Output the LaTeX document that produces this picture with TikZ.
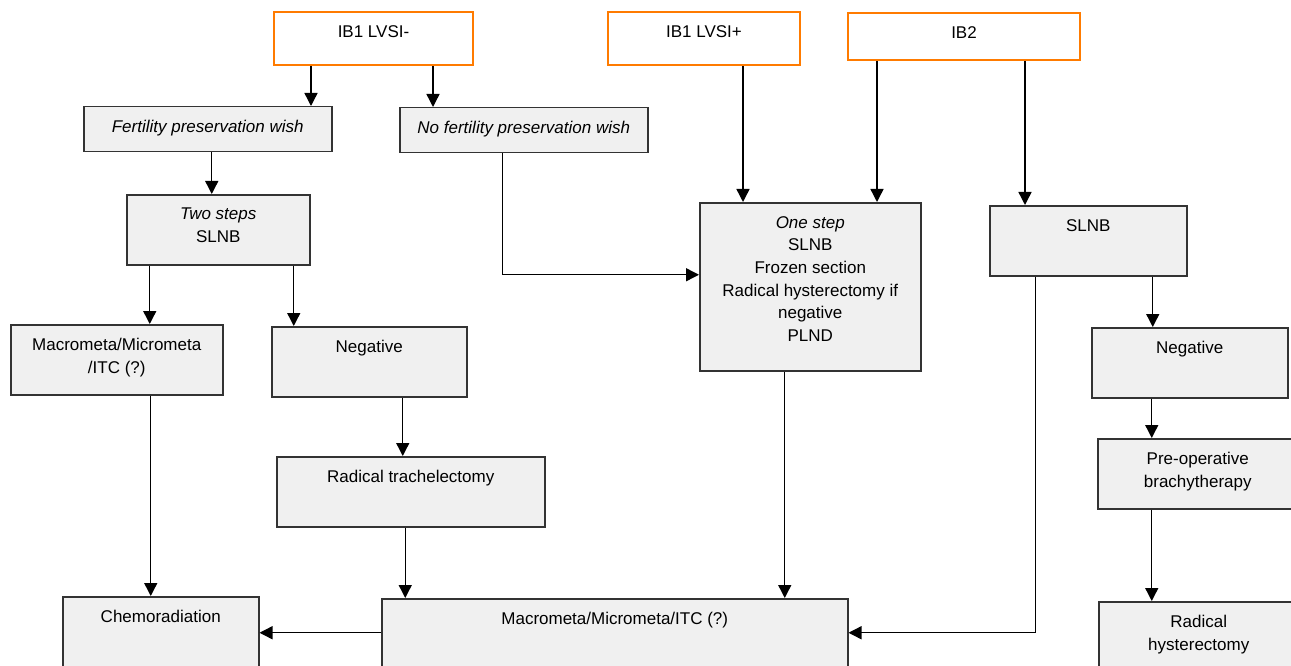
\documentclass[tikz,border=0pt]{standalone}
\usepackage{fontspec}
\setmainfont{Liberation Sans}
\usetikzlibrary{arrows.meta}
\begin{document}
\begin{tikzpicture}[x=1pt,y=-1pt,
  cell/.style={draw=black!80, fill=black!6, line width=1.5pt, anchor=north west, inner sep=0pt},
  stage/.style={draw=orange!85!red!90!yellow, fill=white, line width=2pt, anchor=north west, inner sep=0pt},
  txt/.style={anchor=north, inner sep=0pt, yshift=-14pt, align=center, font=\fontsize{17}{22.7}\selectfont},
  arr/.style={line width=1.4pt, -{Triangle[length=13pt,width=13pt]}}]
\useasboundingbox (0,0) rectangle (1291,666);
\clip (0,0) rectangle (1291,666);
\node[stage, minimum width=199pt, minimum height=53pt] (lvsineg) at (273,11) {};
\node[stage, minimum width=192pt, minimum height=53pt] (lvsipos) at (607,11) {};
\node[stage, minimum width=232pt, minimum height=47pt] (ibtwo) at (847,12) {};
\node[cell, minimum width=248pt, minimum height=45pt] (fert) at (83,106) {};
\node[cell, minimum width=248pt, minimum height=45pt] (nofert) at (399,107) {};
\node[cell, minimum width=183pt, minimum height=70pt] (twostep) at (126,194) {};
\node[cell, minimum width=221pt, minimum height=168pt] (onestep) at (699,202) {};
\node[cell, minimum width=197pt, minimum height=70pt] (slnb) at (989,205) {};
\node[cell, minimum width=212pt, minimum height=70pt] (macleft) at (10,324) {};
\node[cell, minimum width=195pt, minimum height=70pt] (negleft) at (271,326) {};
\node[cell, minimum width=196pt, minimum height=70pt] (negright) at (1091,327) {};
\node[cell, minimum width=268pt, minimum height=70pt] (trach) at (276,456) {};
\node[cell, minimum width=200pt, minimum height=70pt] (prebrachy) at (1097,438) {};
\node[cell, minimum width=196pt, minimum height=80pt] (chemo) at (62,596) {};
\node[cell, minimum width=466pt, minimum height=80pt] (macbottom) at (381,598) {};
\node[cell, minimum width=200pt, minimum height=80pt] (radhyst) at (1098,601) {};
\node[txt] (lvsineg-t) at (lvsineg.north) {IB1 LVSI-};
\node[txt] (lvsipos-t) at (lvsipos.north) {IB1 LVSI+};
\node[txt] (ibtwo-t) at (ibtwo.north) {IB2};
\node[txt] (fert-t) at (fert.north) {\textit{Fertility preservation wish}};
\node[txt] (nofert-t) at (nofert.north) {\textit{No fertility preservation wish}};
\node[txt] (twostep-t) at (twostep.north) {\textit{Two steps}\\SLNB};
\node[txt] (onestep-t) at (onestep.north) {\textit{One step}\\SLNB\\Frozen section\\Radical hysterectomy if\\negative\\PLND};
\node[txt] (slnb-t) at (slnb.north) {SLNB};
\node[txt] (macleft-t) at (macleft.north) {Macrometa/Micrometa\\/ITC (?)};
\node[txt] (negleft-t) at (negleft.north) {Negative};
\node[txt] (negright-t) at (negright.north) {Negative};
\node[txt] (trach-t) at (trach.north) {Radical trachelectomy};
\node[txt] (prebrachy-t) at (prebrachy.north) {Pre-operative\\brachytherapy};
\node[txt] (chemo-t) at (chemo.north) {Chemoradiation};
\node[txt] (macbottom-t) at (macbottom.north) {Macrometa/Micrometa/ITC (?)};
\node[txt] (radhyst-t) at (radhyst.north) {Radical\\hysterectomy};
\draw[arr] ([xshift=-62.5pt]lvsineg.south) -- ([xshift=-62.5pt]lvsineg.south |- fert.north);
\draw[arr] ([xshift=59.5pt]lvsineg.south) -- ([xshift=59.5pt]lvsineg.south |- nofert.north);
\draw[arr] ([xshift=4pt]fert.south) -- ([xshift=4pt]fert.south |- twostep.north);
\draw[arr] ([xshift=-21pt]nofert.south) |- ([yshift=12pt]onestep.west);
\draw[arr] ([xshift=39pt]lvsipos.south) -- ([xshift=39pt]lvsipos.south |- onestep.north);
\draw[arr] ([xshift=-87pt]ibtwo.south) -- ([xshift=-87pt]ibtwo.south |- onestep.north);
\draw[arr] ([xshift=61pt]ibtwo.south) -- ([xshift=61pt]ibtwo.south |- slnb.north);
\draw[arr] ([xshift=-68.5pt]twostep.south) -- ([xshift=-68.5pt]twostep.south |- macleft.north);
\draw[arr] ([xshift=75.5pt]twostep.south) -- ([xshift=75.5pt]twostep.south |- negleft.north);
\draw[arr] ([xshift=34pt]macleft.south) -- ([xshift=34pt]macleft.south |- chemo.north);
\draw[arr] ([xshift=33.5pt]negleft.south) -- ([xshift=33.5pt]negleft.south |- trach.north);
\draw[arr] ([xshift=-5.5pt]trach.south) -- ([xshift=-5.5pt]trach.south |- macbottom.north);
\draw[arr] ([xshift=-25.5pt]onestep.south) -- ([xshift=-25.5pt]onestep.south |- macbottom.north);
\draw[arr] ([xshift=64.5pt]slnb.south) -- ([xshift=64.5pt]slnb.south |- negright.north);
\draw[arr] ([xshift=-52.5pt]slnb.south) |- ([yshift=6pt]macbottom.east);
\draw[arr] ([xshift=-38pt]negright.south) -- ([xshift=-38pt]negright.south |- prebrachy.north);
\draw[arr] ([xshift=-46pt]prebrachy.south) -- ([xshift=-46pt]prebrachy.south |- radhyst.north);
\draw[arr] ([yshift=6pt]macbottom.west) -- ([yshift=6pt]macbottom.west -| chemo.east);
\end{tikzpicture}
\end{document}
